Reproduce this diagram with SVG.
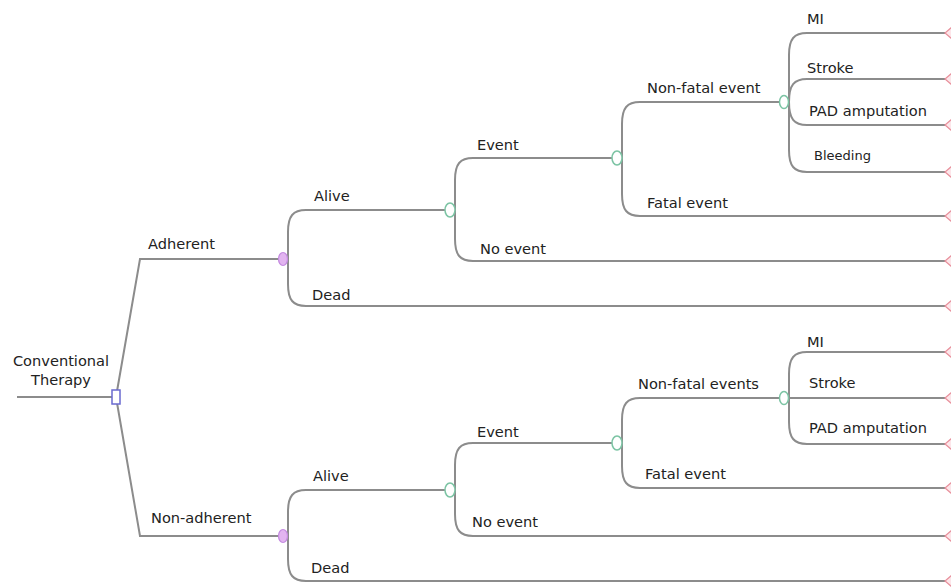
<svg xmlns="http://www.w3.org/2000/svg" width="951" height="587" viewBox="0 0 951 587">
<defs>
<style>
.ln{fill:none;stroke:#8c8c8c;stroke-width:2}
.t{font-family:"DejaVu Sans","Verdana",sans-serif;font-size:14.6px;fill:#222}
.s{font-size:13px}
.dec{fill:#fff;stroke:#6a6ad0;stroke-width:1.5}
.pk{fill:#e2b4f0;stroke:#c48ae0;stroke-width:1.2}
.gr{fill:#fff;stroke:#7cc4a4;stroke-width:1.5}
.term{fill:#fde6ea;stroke:#e8909c;stroke-width:1.2}
</style>
</defs>
<rect width="951" height="587" fill="#fff"/>
<g id="connectors">
<path class="ln" d="M17,397 H112"/>
<path class="ln" d="M116,397 L140,259 H283"/>
<path class="ln" d="M116,397 L140,536 H283"/>
<path class="ln" d="M283,259 H288 V232 C288,216 293,210 306,210 H450"/>
<path class="ln" d="M283,259 H288 V284 C288,300 293,306 306,306 H946"/>
<path class="ln" d="M450,210 H455 V180 C455,164 460,158 473,158 H617"/>
<path class="ln" d="M450,210 H455 V239 C455,255 460,261 473,261 H946"/>
<path class="ln" d="M617,158 H622 V124 C622,108 627,102 640,102 H783"/>
<path class="ln" d="M617,158 H622 V194 C622,210 627,216 640,216 H946"/>
<path class="ln" d="M783,102 H789 V55 C789,39 794,33 807,33 H946"/>
<path class="ln" d="M783,102 H789 C789,85 794,79 807,79 H946"/>
<path class="ln" d="M783,102 H789 C789,119 794,125 807,125 H946"/>
<path class="ln" d="M783,102 H789 V150 C789,166 794,172 807,172 H946"/>
<path class="ln" d="M283,536 H288 V512 C288,496 293,490 306,490 H450"/>
<path class="ln" d="M283,536 H288 V559 C288,575 293,581 306,581 H946"/>
<path class="ln" d="M450,490 H455 V465 C455,449 460,443 473,443 H617"/>
<path class="ln" d="M450,490 H455 V514 C455,530 460,536 473,536 H946"/>
<path class="ln" d="M617,443 H622 V420 C622,404 627,398 640,398 H783"/>
<path class="ln" d="M617,443 H622 V466 C622,482 627,488 640,488 H946"/>
<path class="ln" d="M783,398 H789 V374 C789,358 794,352 807,352 H946"/>
<path class="ln" d="M783,398 H946"/>
<path class="ln" d="M783,398 H789 V422 C789,438 794,444 807,444 H946"/>
</g>
<g id="root">
<text class="t" x="61" y="366" text-anchor="middle">Conventional</text>
<text class="t" x="61" y="385" text-anchor="middle">Therapy</text>
<rect class="dec" x="112" y="390" width="8" height="14"/>
</g>
<g id="adherent">
<text class="t" x="148" y="249">Adherent</text>
<ellipse class="pk" cx="283" cy="259" rx="4.5" ry="6.5"/>
</g>
<g id="alive1">
<text class="t" x="314" y="201">Alive</text>
<ellipse class="gr" cx="450" cy="210" rx="5" ry="7"/>
</g>
<g id="dead1"><text class="t" x="312" y="300">Dead</text><polygon class="term" points="952,300 945,306 952,312"/></g>
<g id="event1">
<text class="t" x="477" y="150">Event</text>
<ellipse class="gr" cx="617" cy="158" rx="5" ry="7"/>
</g>
<g id="noevent1"><text class="t" x="480" y="254">No event</text><polygon class="term" points="952,255 945,261 952,267"/></g>
<g id="nonfatal1">
<text class="t" x="647" y="93">Non-fatal event</text>
<ellipse class="gr" cx="784" cy="102" rx="4.5" ry="6.5"/>
</g>
<g id="fatal1"><text class="t" x="647" y="208">Fatal event</text><polygon class="term" points="952,210 945,216 952,222"/></g>
<g id="mi1"><text class="t" x="807" y="24">MI</text><polygon class="term" points="952,27 945,33 952,39"/></g>
<g id="stroke1"><text class="t" x="807" y="73">Stroke</text><polygon class="term" points="952,73 945,79 952,85"/></g>
<g id="pad1"><text class="t" x="809" y="116">PAD amputation</text><polygon class="term" points="952,119 945,125 952,131"/></g>
<g id="bleeding1"><text class="t s" x="814" y="160">Bleeding</text><polygon class="term" points="952,166 945,172 952,178"/></g>
<g id="nonadherent">
<text class="t" x="151" y="523">Non-adherent</text>
<ellipse class="pk" cx="283" cy="536" rx="4.5" ry="6.5"/>
</g>
<g id="alive2">
<text class="t" x="313" y="481">Alive</text>
<ellipse class="gr" cx="450" cy="490" rx="5" ry="7"/>
</g>
<g id="dead2"><text class="t" x="311" y="573">Dead</text><polygon class="term" points="952,575 945,581 952,587"/></g>
<g id="event2">
<text class="t" x="477" y="437">Event</text>
<ellipse class="gr" cx="617" cy="443" rx="5" ry="7"/>
</g>
<g id="noevent2"><text class="t" x="472" y="527">No event</text><polygon class="term" points="952,530 945,536 952,542"/></g>
<g id="nonfatal2">
<text class="t" x="638" y="389">Non-fatal events</text>
<ellipse class="gr" cx="784" cy="398" rx="4.5" ry="6.5"/>
</g>
<g id="fatal2"><text class="t" x="645" y="479">Fatal event</text><polygon class="term" points="952,482 945,488 952,494"/></g>
<g id="mi2"><text class="t" x="807" y="347">MI</text><polygon class="term" points="952,346 945,352 952,358"/></g>
<g id="stroke2"><text class="t" x="809" y="388">Stroke</text><polygon class="term" points="952,392 945,398 952,404"/></g>
<g id="pad2"><text class="t" x="809" y="433">PAD amputation</text><polygon class="term" points="952,438 945,444 952,450"/></g>
</svg>
